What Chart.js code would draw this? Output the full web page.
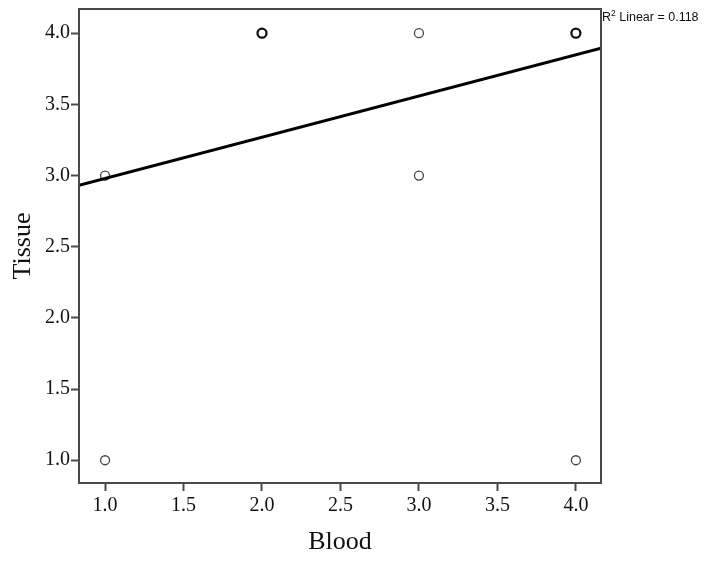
<!DOCTYPE html>
<html>
<head>
<meta charset="utf-8">
<script src="https://cdn.jsdelivr.net/npm/chart.js@4"></script>
<style>
  html, body { margin: 0; padding: 0; background: #fff; }
  canvas { display: block; }
</style>
</head>
<body>
<canvas id="scatter" width="709" height="563"></canvas>
<script>
// Observed points (Blood, Tissue); heavy = overlapping cases drawn darker
const bloodValues = [1, 1, 3, 3, 4];
const tissueValues = [3, 1, 4, 3, 1];
const heavyBlood = [2, 4];
const heavyTissue = [4, 4];

// Fit line at the plot edges
const fitX = [0.834, 4.16];
const fitY = [2.932, 3.895];
const rSquared = "0.118";

const xTicks = [1.0, 1.5, 2.0, 2.5, 3.0, 3.5, 4.0];
const yTicks = [1.0, 1.5, 2.0, 2.5, 3.0, 3.5, 4.0];

const axisColor = "#4a4a4a";
const serif = "'Liberation Serif', 'DejaVu Serif', serif";

// Box around plot area and the R² note at top right
const framePlugin = {
    id: "frame",
    afterDraw(chart) {
        const {ctx, chartArea} = chart;
        ctx.save();
        ctx.strokeStyle = axisColor;
        ctx.lineWidth = 2;
        ctx.strokeRect(chartArea.left, chartArea.top, chartArea.right - chartArea.left, chartArea.bottom - chartArea.top);

        let x = chartArea.right + 1;
        const y = 21;
        ctx.fillStyle = "#111";
        ctx.textBaseline = "alphabetic";
        ctx.font = "12.5px 'Liberation Sans', Arial, sans-serif";
        ctx.fillText("R", x, y);
        x += ctx.measureText("R").width;
        ctx.font = "8.5px 'Liberation Sans', Arial, sans-serif";
        ctx.fillText("2", x, y - 5);
        x += ctx.measureText("2").width;
        ctx.font = "12.5px 'Liberation Sans', Arial, sans-serif";
        ctx.fillText(" Linear = " + rSquared, x, y);
        ctx.restore();
    }
};

const toPoints = (xs, ys) => xs.map((v, i) => ({x: v, y: ys[i]}));

new Chart(document.getElementById("scatter"), {
    type: "scatter",
    data: {
        datasets: [
            {
                type: "line",
                data: toPoints(fitX, fitY),
                borderColor: "#000",
                borderWidth: 3,
                pointRadius: 0,
                fill: false
            },
            {
                data: toPoints(bloodValues, tissueValues),
                pointRadius: 4.5,
                pointBorderWidth: 1.3,
                pointBorderColor: "#444",
                pointBackgroundColor: "rgba(0,0,0,0)"
            },
            {
                data: toPoints(heavyBlood, heavyTissue),
                pointRadius: 4.5,
                pointBorderWidth: 2.3,
                pointBorderColor: "#111",
                pointBackgroundColor: "rgba(0,0,0,0)"
            }
        ]
    },
    options: {
        responsive: false,
        animation: false,
        layout: {padding: {top: 9, right: 108, left: 0, bottom: 0}},
        plugins: {legend: {display: false}, tooltip: {enabled: false}},
        scales: {
            x: {
                type: "linear",
                min: 0.834,
                max: 4.16,
                afterBuildTicks: axis => { axis.ticks = xTicks.map(v => ({value: v})); },
                afterFit: axis => {
                    axis.height = 80;
                    axis.paddingLeft = 0;
                    axis.paddingRight = 0;
                },
                grid: {drawOnChartArea: false, drawTicks: true, tickLength: 8, tickWidth: 2, color: axisColor},
                border: {display: true, color: axisColor, width: 2},
                ticks: {
                    color: "#111",
                    padding: 3,
                    maxRotation: 0,
                    font: {family: serif, size: 20},
                    callback: v => v.toFixed(1)
                },
                title: {
                    display: true,
                    text: "Blood",
                    color: "#111",
                    font: {family: serif, size: 26},
                    padding: {top: 0, bottom: 5}
                }
            },
            y: {
                type: "linear",
                min: 0.84,
                max: 4.17,
                afterBuildTicks: axis => { axis.ticks = yTicks.map(v => ({value: v})); },
                afterFit: axis => {
                    axis.width = 79;
                    axis.paddingTop = 0;
                    axis.paddingBottom = 0;
                },
                grid: {drawOnChartArea: false, drawTicks: true, tickLength: 8, tickWidth: 2, color: axisColor},
                border: {display: true, color: axisColor, width: 2},
                ticks: {
                    color: "#111",
                    padding: 1,
                    font: {family: serif, size: 20},
                    callback: v => v.toFixed(1)
                },
                title: {
                    display: true,
                    text: "Tissue",
                    color: "#111",
                    font: {family: serif, size: 26},
                    padding: {top: 8, bottom: 0}
                }
            }
        }
    },
    plugins: [framePlugin]
});
</script>
</body>
</html>
